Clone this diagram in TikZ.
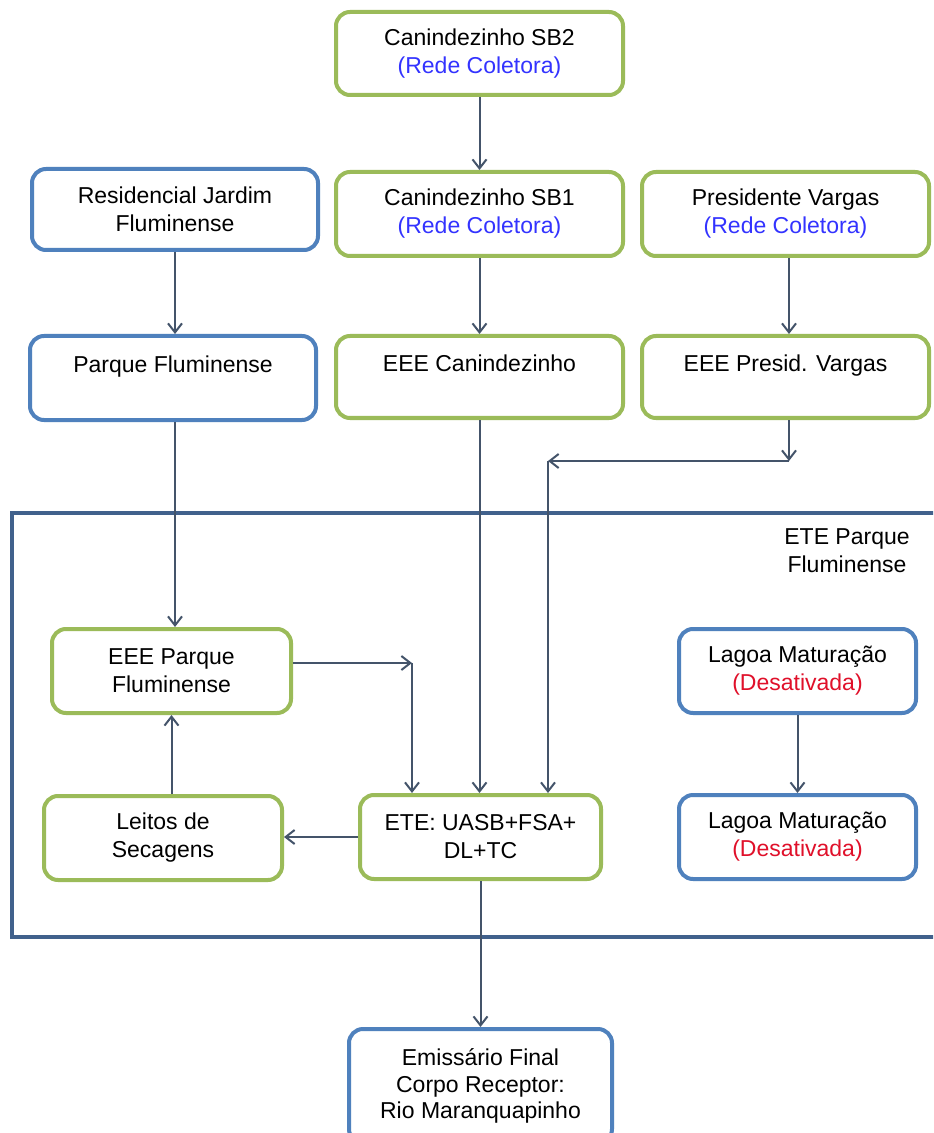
\documentclass[tikz,border=0pt]{standalone}
\usepackage{fontspec}
\setmainfont{Liberation Sans}
\usepackage{tikz}
\usetikzlibrary{arrows.meta,positioning,calc}
\definecolor{boxgreen}{HTML}{9BBB59}
\definecolor{boxblue}{HTML}{4F81BD}
\definecolor{linegray}{HTML}{44546A}
\definecolor{framecol}{HTML}{41618C}
\definecolor{redeblue}{HTML}{3333FF}
\definecolor{desred}{HTML}{E0102A}

\begin{document}
\begin{tikzpicture}[x=0.5pt,y=-0.5pt,
	font=\fontsize{11.5}{14}\selectfont,
	box/.style={draw, line width=2pt, rounded corners=7pt, align=center, inner sep=0pt, fill=white},
	gbox/.style={box, draw=boxgreen},
	bbox/.style={box, draw=boxblue},
	flow/.style={draw=linegray, line width=1pt, -{Straight Barb[length=4.5pt,width=7pt]}},
	frame/.style={draw=framecol, line width=1.6pt}]
	\clip (0,0) rectangle (933,1133);
	\fill[white] (0,0) rectangle (933,1133);
	% ETE frame
	\draw[frame] (12,513) rectangle (945,937);
	\node[align=center] (etelbl) at (847,551) {ETE Parque\\Fluminense};
	% top row boxes
	\node[gbox, minimum width=143.5pt, minimum height=41.5pt] (sb2) at (479.5,53.5) {Canindezinho SB2\\\textcolor{redeblue}{(Rede Coletora)}};
	\node[bbox, minimum width=143pt, minimum height=40.5pt] (res) at (175,209.5) {Residencial Jardim\\Fluminense};
	\node[gbox, minimum width=143.5pt, minimum height=42pt] (sb1) at (479.5,214) {Canindezinho SB1\\\textcolor{redeblue}{(Rede Coletora)}};
	\node[gbox, minimum width=143.5pt, minimum height=42pt] (pv) at (785.5,214) {Presidente Vargas\\\textcolor{redeblue}{(Rede Coletora)}};
	% pumping stations
	\node[bbox, minimum width=143pt, minimum height=42pt] (pq) at (173,378) {Parque Fluminense\\\phantom{x}};
	\node[gbox, minimum width=143.5pt, minimum height=41pt] (eeecan) at (479.5,377) {EEE Canindezinho\\\phantom{x}};
	\node[gbox, minimum width=143.5pt, minimum height=41pt] (eeepv) at (785.5,377) {EEE Presid. Vargas\\\phantom{x}};
	% inside the ETE
	\node[gbox, minimum width=119.5pt, minimum height=42pt] (eeepf) at (171.5,671) {EEE Parque\\Fluminense};
	\node[gbox, minimum width=119pt, minimum height=42pt] (leitos) at (163,838) {Leitos de\\Secagens};
	\node[gbox, minimum width=120.5pt, minimum height=42pt] (ete) at (480.5,837) {ETE: UASB+FSA+\\DL+TC};
	\node[bbox, minimum width=118.5pt, minimum height=42pt] (lag1) at (797.5,671) {Lagoa Maturação\\\textcolor{desred}{(Desativada)}};
	\node[bbox, minimum width=118.5pt, minimum height=42pt] (lag2) at (797.5,837) {Lagoa Maturação\\\textcolor{desred}{(Desativada)}};
	% outfall
	\node[bbox, minimum width=131.5pt, minimum height=57pt] (emis) at (480.5,1086) {};
	\node[align=center, font=\fontsize{11.5}{13.3}\selectfont] (emistxt) at (480.5,1086) {Emissário Final\\Corpo Receptor:\\Rio Maranquapinho};
	% junctions
	\coordinate (j1) at (412,663);
	\coordinate (j2) at (789,461);
	\coordinate (j3) at (548,461);
	% connectors
	\draw[flow] (sb2.south) -- (sb1.north);
	\draw[flow] (res.south) -- (res.south |- pq.north);
	\draw[flow] (sb1.south) -- (eeecan.north);
	\draw[flow] (pv.south -| j2) -- (eeepv.north -| j2);
	\draw[flow] (eeepv.south -| j2) -- (j2);
	\draw[flow] (j2) -- (j3);
	\draw[flow] (j3) -- (j3 |- ete.north);
	\draw[flow] (eeecan.south) -- (eeecan.south |- ete.north);
	\draw[flow] (pq.south -| res.south) -- (res.south |- eeepf.north);
	\draw[flow] (eeepf.east |- j1) -- (j1);
	\draw[flow] (j1) -- (j1 |- ete.north);
	\draw[flow] (eeepf.south |- leitos.north) -- (eeepf.south);
	\draw[flow] (ete.west) -- (leitos.east |- ete.west);
	\draw[flow] (lag1.south) -- (lag2.north);
	\draw[flow] (ete.south) -- (emis.north);
\end{tikzpicture}
\end{document}
